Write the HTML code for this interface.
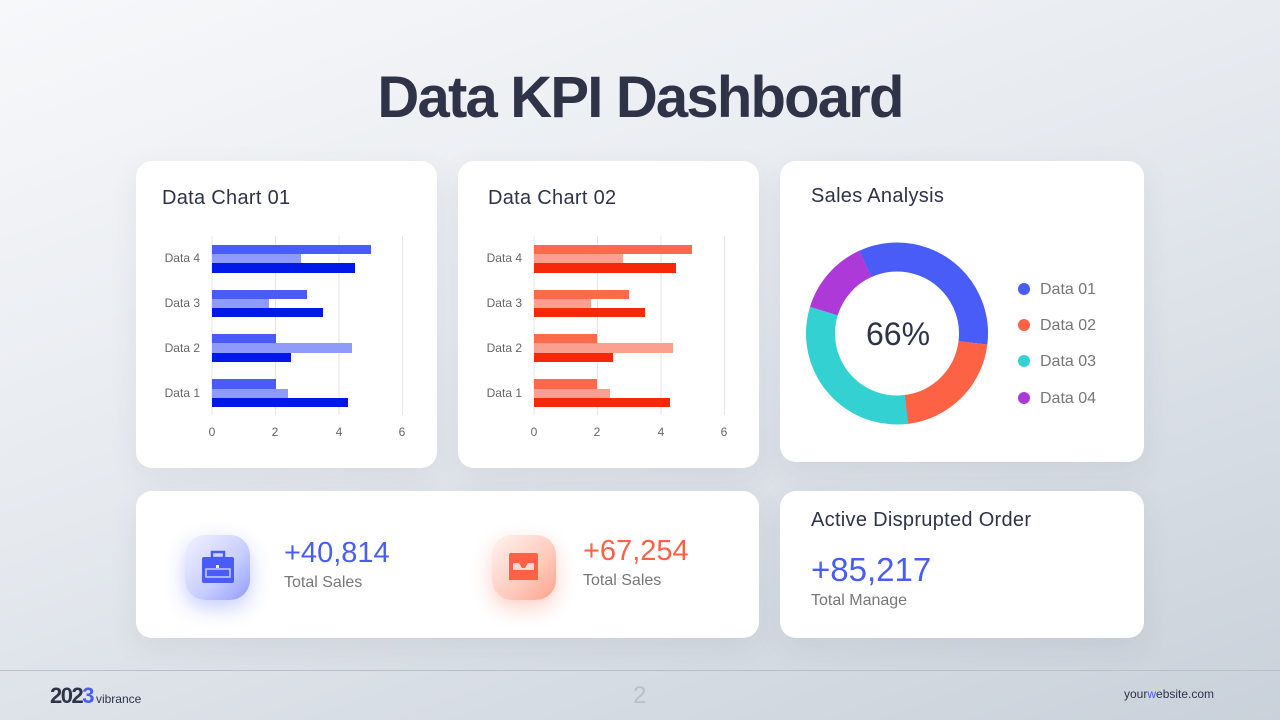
<!DOCTYPE html>
<html><head><meta charset="utf-8"><style>
*{margin:0;padding:0;box-sizing:border-box}
body{width:1280px;height:720px;overflow:hidden;font-family:"Liberation Sans",sans-serif;background:linear-gradient(160deg,#f7f8fa 0%,#e6eaef 45%,#c9d1da 100%);position:relative;color:#2e3348}
.card{position:absolute;background:#fff;border-radius:16px;box-shadow:0 10px 30px rgba(60,70,90,0.08)}
.t{position:absolute;white-space:nowrap}
h1{position:absolute;left:0;width:1280px;top:64px;text-align:center;font-size:58px;font-weight:bold;letter-spacing:-1.8px;color:#2e3348}
.ct{font-size:20px;color:#2e3348;letter-spacing:.3px}
</style></head><body>
<h1>Data KPI Dashboard</h1>

<div class="card" style="left:136px;top:161px;width:301px;height:307px"></div>
<div class="card" style="left:458px;top:161px;width:301px;height:307px"></div>
<div class="card" style="left:780px;top:161px;width:364px;height:301px"></div>
<div class="card" style="left:136px;top:491px;width:623px;height:147px"></div>
<div class="card" style="left:780px;top:491px;width:364px;height:147px"></div>

<div class="t ct" style="left:162px;top:187px">Data Chart 01</div>
<div class="t ct" style="left:488px;top:187px">Data Chart 02</div>
<div class="t ct" style="left:811px;top:185px">Sales Analysis</div>

<svg style="position:absolute;left:0;top:0" width="1280" height="720">
<g font-family="Liberation Sans" font-size="12" fill="#666">
<g stroke="#e6e6e6" stroke-width="1">
<line x1="212" y1="236" x2="212" y2="415"/><line x1="275.5" y1="236" x2="275.5" y2="415"/><line x1="339" y1="236" x2="339" y2="415"/><line x1="402.5" y1="236" x2="402.5" y2="415"/>
<line x1="534" y1="236" x2="534" y2="415"/><line x1="597.5" y1="236" x2="597.5" y2="415"/><line x1="661" y1="236" x2="661" y2="415"/><line x1="724.5" y1="236" x2="724.5" y2="415"/>
</g>
<rect x="212" y="245" width="159" height="9" fill="#4a5cf8"/><rect x="212" y="254" width="89" height="9" fill="#8f9bfb"/><rect x="212" y="263" width="143" height="10" fill="#0119e8"/>
<rect x="212" y="290" width="95" height="9" fill="#4a5cf8"/><rect x="212" y="299" width="57" height="9" fill="#8f9bfb"/><rect x="212" y="308" width="111" height="9" fill="#0119e8"/>
<rect x="212" y="334" width="64" height="9" fill="#4a5cf8"/><rect x="212" y="343" width="140" height="10" fill="#8f9bfb"/><rect x="212" y="353" width="79" height="9" fill="#0119e8"/>
<rect x="212" y="379" width="64" height="10" fill="#4a5cf8"/><rect x="212" y="389" width="76" height="9" fill="#8f9bfb"/><rect x="212" y="398" width="136" height="9" fill="#0119e8"/>
<rect x="534" y="245" width="158" height="9" fill="#fb6a4a"/><rect x="534" y="254" width="89" height="9" fill="#fba08e"/><rect x="534" y="263" width="142" height="10" fill="#f5280a"/>
<rect x="534" y="290" width="95" height="9" fill="#fb6a4a"/><rect x="534" y="299" width="57" height="9" fill="#fba08e"/><rect x="534" y="308" width="111" height="9" fill="#f5280a"/>
<rect x="534" y="334" width="63" height="9" fill="#fb6a4a"/><rect x="534" y="343" width="139" height="10" fill="#fba08e"/><rect x="534" y="353" width="79" height="9" fill="#f5280a"/>
<rect x="534" y="379" width="63" height="10" fill="#fb6a4a"/><rect x="534" y="389" width="76" height="9" fill="#fba08e"/><rect x="534" y="398" width="136" height="9" fill="#f5280a"/>
<g text-anchor="end">
<text x="200" y="262">Data 4</text><text x="200" y="307">Data 3</text><text x="200" y="352">Data 2</text><text x="200" y="397">Data 1</text>
<text x="522" y="262">Data 4</text><text x="522" y="307">Data 3</text><text x="522" y="352">Data 2</text><text x="522" y="397">Data 1</text>
</g>
<g text-anchor="middle">
<text x="212" y="436">0</text><text x="275" y="436">2</text><text x="339" y="436">4</text><text x="402" y="436">6</text>
<text x="534" y="436">0</text><text x="597" y="436">2</text><text x="661" y="436">4</text><text x="724" y="436">6</text>
</g>
</g>
<g fill="none" stroke-width="29">
<circle cx="897" cy="333.5" r="76.5" stroke="#4a5cf8" stroke-dasharray="162.2 480" transform="rotate(-114.5 897 333.5)"/>
<circle cx="897" cy="333.5" r="76.5" stroke="#fd6244" stroke-dasharray="101.5 480" transform="rotate(7 897 333.5)"/>
<circle cx="897" cy="333.5" r="76.5" stroke="#34d1d3" stroke-dasharray="152.2 480" transform="rotate(83 897 333.5)"/>
<circle cx="897" cy="333.5" r="76.5" stroke="#ac39d8" stroke-dasharray="64.8 480" transform="rotate(197 897 333.5)"/>
</g>
<text x="898" y="345" text-anchor="middle" font-family="Liberation Sans" font-size="32" fill="#2e3348">66%</text>
<g font-family="Liberation Sans" font-size="16" fill="#777">
<circle cx="1024" cy="289" r="6" fill="#4a5cf8"/><text x="1040" y="294">Data 01</text>
<circle cx="1024" cy="325" r="6" fill="#fd6244"/><text x="1040" y="330">Data 02</text>
<circle cx="1024" cy="361" r="6" fill="#34d1d3"/><text x="1040" y="366">Data 03</text>
<circle cx="1024" cy="398" r="6" fill="#ac39d8"/><text x="1040" y="403">Data 04</text>
</g>
<line x1="0" y1="670.5" x2="1280" y2="670.5" stroke="#b8c0c9" stroke-width="1"/>
</svg>

<div style="position:absolute;left:185px;top:535px;width:65px;height:65px;border-radius:20px;background:linear-gradient(135deg,#f2f3ff,#c6ccff 60%,#8f9bfb);box-shadow:0 8px 20px rgba(74,92,248,0.3)"></div>
<svg style="position:absolute;left:200px;top:549px" width="36" height="36" viewBox="0 0 36 36"><rect x="12" y="3" width="12" height="6" fill="none" stroke="#4a5cf8" stroke-width="2.5"/><rect x="2" y="8" width="32" height="26" rx="2" fill="#4a5cf8"/><rect x="6" y="20" width="24" height="8" fill="none" stroke="#c6ccff" stroke-width="1.5"/><rect x="16" y="16" width="3" height="3" fill="#fff"/></svg>
<div style="position:absolute;left:492px;top:535px;width:64px;height:65px;border-radius:20px;background:linear-gradient(135deg,#fff3f0,#ffc9bb 60%,#fda28c);box-shadow:0 8px 20px rgba(253,98,68,0.3)"></div>
<svg style="position:absolute;left:506px;top:550px" width="36" height="36" viewBox="0 0 36 36"><rect x="3" y="3" width="29" height="27" rx="2" fill="#fd6244"/><path d="M7 13 H13 L16 18 H19 L22 13 H28 V26 H7Z" fill="#ffd9cf"/><rect x="3" y="20" width="29" height="10" fill="#fd6244"/></svg>

<div class="t" style="left:284px;top:537px;font-size:29px;color:#4a5cf8">+40,814</div>
<div class="t" style="left:284px;top:574px;font-size:16px;color:#777">Total Sales</div>
<div class="t" style="left:583px;top:535px;font-size:29px;color:#fd6244">+67,254</div>
<div class="t" style="left:583px;top:572px;font-size:16px;color:#777">Total Sales</div>

<div class="t ct" style="left:811px;top:509px">Active Disprupted Order</div>
<div class="t" style="left:811px;top:551px;font-size:33px;color:#4a5cf8">+85,217</div>
<div class="t" style="left:811px;top:592px;font-size:16px;color:#777">Total Manage</div>

<div class="t" style="left:50px;top:683px;font-size:22px;font-weight:bold;color:#2e3348;letter-spacing:-1.5px">202<span style="color:#4a5cf8">3</span><span style="font-size:12px;font-weight:normal;letter-spacing:0;margin-left:3px">vibrance</span></div>
<div class="t" style="left:633px;top:682px;font-size:24px;color:#b8bfc8">2</div>
<div class="t" style="left:1124px;top:687px;font-size:12px;color:#2e3348">your<span style="color:#4a5cf8">w</span>ebsite.com</div>
</body></html>
